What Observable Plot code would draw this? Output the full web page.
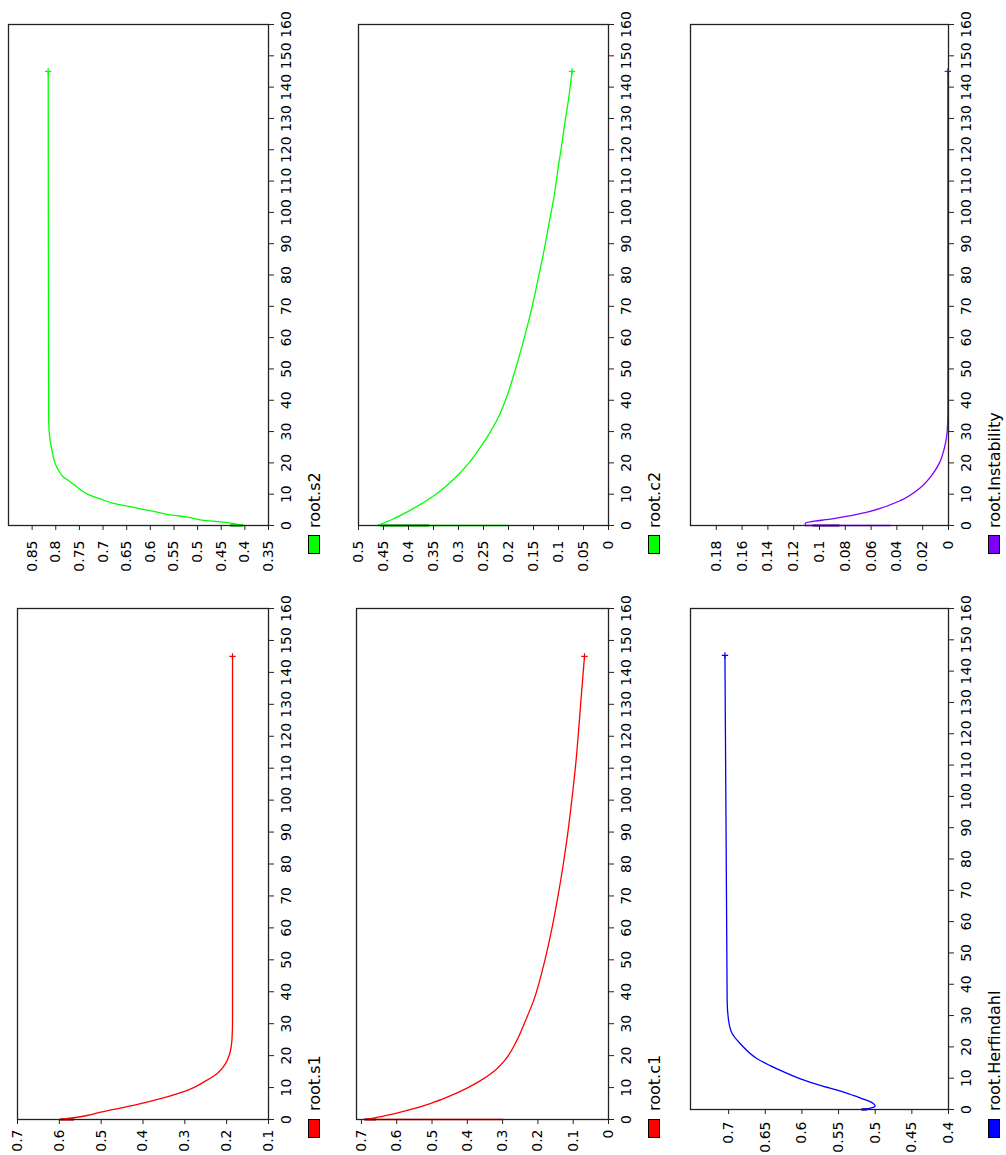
<!DOCTYPE html>
<html><head><meta charset="utf-8">
<script src="https://cdn.jsdelivr.net/npm/d3@7"></script>
<script src="https://cdn.jsdelivr.net/npm/@observablehq/plot@0.6"></script>
<style>
body{margin:0;background:#fff;}
#root{position:relative;width:1006px;height:1155px;overflow:hidden;font-family:"DejaVu Sans",sans-serif;}
.panel{position:absolute;}
.legbox{position:absolute;width:12px;height:19px;border:1px solid #000;box-sizing:border-box;}
.legtxt{position:absolute;transform-origin:0 0;transform:rotate(-90deg);font-size:16px;line-height:16px;white-space:nowrap;color:#000;font-family:"DejaVu Sans",sans-serif;}
</style></head><body><div id="root"></div>
<script>
// time ticks (shared)
const timeTicks = [0,10,20,30,40,50,60,70,80,90,100,110,120,130,140,150,160];

// root.s1
const s1T = [0, 1.25, 2.3, 4.4, 6.5, 9.1, 11.7, 14.3, 17.4, 20.5, 25.8, 31, 145];
const s1V = [0.597, 0.533, 0.501, 0.423, 0.358, 0.294, 0.255, 0.223, 0.203, 0.193, 0.187, 0.186, 0.186];
const s1Start = [0.597, 0.566];
const s1Ticks = [0.1,0.2,0.3,0.4,0.5,0.6,0.7];

// root.s2
const s2T = [0, 0.75, 1.3, 1.8, 2.7, 3.2, 4.3, 5.3, 6.2, 7.1, 8.5, 9.6, 10.7, 12.3, 13.9, 15.5, 17.6, 19.7, 24, 27.2, 33.6, 145];
const s2V = [0.402, 0.43, 0.462, 0.494, 0.522, 0.55, 0.586, 0.621, 0.649, 0.678, 0.706, 0.727, 0.741, 0.755, 0.769, 0.784, 0.794, 0.801, 0.808, 0.812, 0.815, 0.816];
const s2Start = [0.405, 0.43];
const s2Ticks = [0.35,0.4,0.45,0.5,0.55,0.6,0.65,0.7,0.75,0.8,0.85];

// root.c1
const c1T = [0, 1, 2, 3, 5, 7, 10, 12, 15, 18.5, 24.7, 31, 37.3, 50, 60, 70, 80, 90, 100, 110, 120, 130, 145];
const c1V = [0.69, 0.64, 0.6, 0.565, 0.505, 0.457, 0.398, 0.365, 0.325, 0.294, 0.26, 0.235, 0.212, 0.18, 0.16, 0.143, 0.128, 0.115, 0.104, 0.094, 0.086, 0.079, 0.068];
const c1Start = [0.69, 0.3];
const c1Dark = [0.69, 0.66];
const c1Ticks = [0,0.1,0.2,0.3,0.4,0.5,0.6,0.7];

// root.c2
const c2T = [0, 2, 5, 10, 15, 20, 25, 30, 34, 40, 50, 62, 67, 77, 87, 99, 104, 115, 121, 129, 136, 145];
const c2V = [0.462, 0.432, 0.395, 0.345, 0.308, 0.279, 0.256, 0.236, 0.222, 0.206, 0.186, 0.165, 0.157, 0.143, 0.13, 0.116, 0.11, 0.1, 0.094, 0.087, 0.08, 0.073];
const c2Start = [0.2, 0.462];
const c2Dark = [0.36, 0.455];
const c2Ticks = [0,0.05,0.1,0.15,0.2,0.25,0.3,0.35,0.4,0.45,0.5];

// root.Herfindahl
const hT = [0, 0.5, 1.2, 2, 3, 4, 5, 5.85, 7.7, 9.8, 13, 16.2, 21, 24.2, 28.4, 34.8, 145];
const hV = [0.518, 0.505, 0.5, 0.503, 0.512, 0.524, 0.536, 0.547, 0.575, 0.602, 0.634, 0.661, 0.684, 0.695, 0.7, 0.702, 0.705];
const hStart = [0.518, 0.512];
const hTicks = [0.4,0.45,0.5,0.55,0.6,0.65,0.7];

// root.Instability
const iT = [0, 0.75, 2.2, 4.3, 8, 12, 16, 20, 25, 30, 36, 145];
const iV = [0.111, 0.111, 0.089, 0.063, 0.037, 0.022, 0.013, 0.007, 0.003, 0.001, 0.0005, 0.0005];
const iStart = [0.045, 0.111];
const iDark = [0.085, 0.105];
const iTicks = [0,0.02,0.04,0.06,0.08,0.1,0.12,0.14,0.16,0.18];

const panels = [
  {name:"root.s2", color:"#00ff00", t:s2T, v:s2V, start:s2Start, dark:s2Start, ticks:s2Ticks, domain:[0.9,0.35], left:8, right:268, top:24, bottom:525, legBox:535, legTxt:528, pad:10},
  {name:"root.c2", color:"#00ff00", t:c2T, v:c2V, start:c2Start, dark:c2Dark, ticks:c2Ticks, domain:[0.5,0], left:358, right:608, top:24, bottom:525, legBox:535, legTxt:528, pad:10},
  {name:"root.Instability", color:"#8000ff", t:iT, v:iV, start:iStart, dark:iDark, ticks:iTicks, domain:[0.2,0], left:690, right:948, top:24, bottom:525, legBox:535, legTxt:528, pad:10},
  {name:"root.s1", color:"#ff0000", t:s1T, v:s1V, start:s1Start, dark:s1Start, ticks:s1Ticks, domain:[0.7,0.1], left:17, right:268, top:608, bottom:1119, legBox:1119, legTxt:1111, pad:5},
  {name:"root.c1", color:"#ff0000", t:c1T, v:c1V, start:c1Start, dark:c1Dark, ticks:c1Ticks, domain:[0.714,0], left:356, right:608, top:608, bottom:1119, legBox:1119, legTxt:1111, pad:5},
  {name:"root.Herfindahl", color:"#0000ff", t:hT, v:hV, start:hStart, dark:hStart, ticks:hTicks, domain:[0.752,0.4], left:690, right:948, top:608, bottom:1109, legBox:1119, legTxt:1111, pad:7}
];

const root = document.getElementById("root");
const fmt = d => String(Math.round(d*1000)/1000);

for (const p of panels) {
  const mL = 2, mR = 38, mT = 12, mB = 34;
  const w = p.right - p.left, h = p.bottom - p.top;
  const line = p.t.map((t,i) => ({t, v:p.v[i]}));
  const start = p.start.map(v => ({t:0, v}));
  const dark = p.dark.map(v => ({t:0, v}));
  const darkColor = d3.color(p.color).darker(1.6).formatHex();
  const chart = Plot.plot({
    width: w + mL + mR, height: h + mT + mB,
    marginLeft: mL, marginRight: mR, marginTop: mT, marginBottom: mB,
    style: {background:"transparent", fontFamily:"DejaVu Sans, sans-serif", fontSize:"14px", color:"#000", overflow:"visible"},
    x: {domain: p.domain, axis: null},
    y: {domain: [0,160], axis: null},
    marks: [
      Plot.line(start, {x:"v", y:"t", stroke:p.color, strokeWidth:1.3}),
      Plot.line(dark, {x:"v", y:"t", stroke:darkColor, strokeWidth:2}),
      Plot.line(line, {x:"v", y:"t", stroke:p.color, strokeWidth:1.3, curve:"monotone-y"}),
      Plot.dot([line[line.length-1]], {x:"v", y:"t", symbol:"plus", r:2.2, stroke:p.color, strokeWidth:1.2}),
      Plot.frame({stroke:"#222", strokeWidth:1.3}),
      Plot.axisX({anchor:"bottom", label:null, ticks:p.ticks, tickSize:5, tickRotate:-90, textAnchor:"end", lineAnchor:"middle", tickPadding:p.pad, tickFormat:fmt, stroke:"#222"}),
      Plot.axisY({anchor:"right", label:null, ticks:timeTicks, tickSize:5, tickRotate:-90, textAnchor:"middle", lineAnchor:"top", tickPadding:8, tickFormat:d => String(d), stroke:"#222"})
    ]
  });
  const div = document.createElement("div");
  div.className = "panel";
  div.style.left = (p.left - mL) + "px";
  div.style.top = (p.top - mT) + "px";
  div.appendChild(chart);
  root.appendChild(div);
}

for (const p of panels) {
  const box = document.createElement("div");
  box.className = "legbox";
  box.style.left = (p.right + 40) + "px";
  box.style.top = p.legBox + "px";
  box.style.background = p.color;
  root.appendChild(box);
  const txt = document.createElement("div");
  txt.className = "legtxt";
  txt.style.left = (p.right + 39) + "px";
  txt.style.top = p.legTxt + "px";
  txt.textContent = p.name;
  root.appendChild(txt);
}
</script></body></html>
